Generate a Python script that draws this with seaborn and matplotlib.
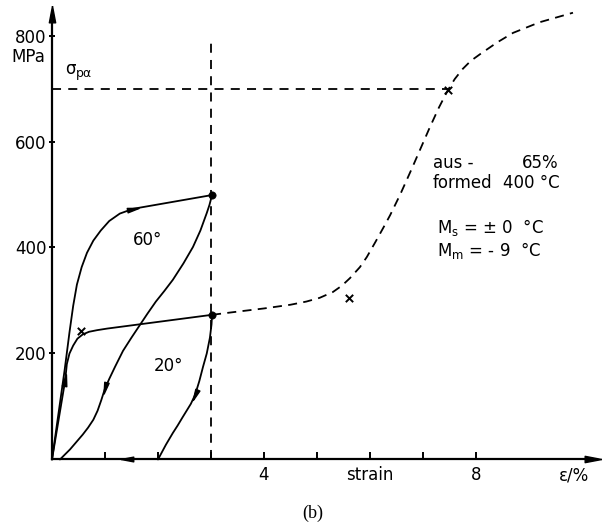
import numpy as np
import matplotlib
matplotlib.use("Agg")
import matplotlib.pyplot as plt
import seaborn as sns

# strain in %, stress in MPa
load60_x = [0, 0.12, 0.24, 0.33, 0.40, 0.47, 0.56, 0.66, 0.78, 0.92, 1.08, 1.28, 1.53, 3.02]
load60_y = [0, 85, 170, 240, 290, 330, 363, 390, 413, 432, 450, 464, 473, 499]
unload60_x = [3.02, 2.97, 2.92, 2.8, 2.66, 2.48, 2.28, 2.12, 1.96, 1.8, 1.66, 1.5, 1.34,
              1.19, 1.08, 1.0, 0.93, 0.86, 0.78, 0.68, 0.58, 0.46, 0.34, 0.22, 0.15]
unload60_y = [499, 480, 465, 432, 401, 370, 339, 318, 298, 275, 254, 230, 205,
              175, 152, 134, 112, 92, 75, 60, 47, 33, 19, 7, 0]

load20_x = [0, 0.12, 0.25, 0.28, 0.33, 0.40, 0.48, 0.58, 0.70, 0.85, 1.04, 3.02]
load20_y = [0, 72, 150, 180, 200, 215, 228, 236, 241, 244, 247, 273]
unload20_x = [3.02, 3.01, 2.98, 2.92, 2.85, 2.78, 2.7, 2.62, 2.54, 2.46, 2.37, 2.28, 2.15, 2.0]
unload20_y = [273, 255, 230, 200, 175, 148, 122, 105, 92, 79, 64, 50, 28, 0]
return_x = [2.0, 0.15]
return_y = [0, 0]

# dashed curve beyond 3 %
ext_x = [3.02, 3.42, 4.0, 4.5, 4.8, 5.05, 5.3, 5.47, 5.62, 5.81, 5.94, 6.1, 6.25, 6.38,
         6.57, 6.79, 6.89, 7.13, 7.3, 7.47, 7.6, 7.75, 7.9, 8.08, 8.4, 8.7, 9.2, 9.83]
ext_y = [273, 278, 285, 292, 298, 305, 316, 328, 342, 363, 382, 410, 437, 461,
         500, 549, 572, 627, 664, 697, 718, 737, 752, 765, 787, 805, 825, 843]

sigma_pa = 700
strain_stop = 3.0

dots_x = [3.02, 3.02]
dots_y = [499, 273]
cross_x = [0.55, 5.6, 7.47]
cross_y = [243, 305, 697]

# arrowheads on the curves: x, y, direction (deg)
arrow_x = [1.53, 1.0, 2.7, 0.25, 1.42]
arrow_y = [473, 134, 122, 150, 0]
arrow_dir = [11, 256, 246, 81, 180]

ytick_vals = [200, 400, 600, 800]
xtick_vals = [1, 2, 3, 4, 5, 6, 7, 8]
xtick_text = ["", "", "", "4", "", "strain", "", "8"]


def head(deg):
    t = np.deg2rad(deg)
    pts = np.array([[1.0, 0.0], [-1.0, 0.38], [-1.0, -0.38], [1.0, 0.0]])
    rot = np.array([[np.cos(t), -np.sin(t)], [np.sin(t), np.cos(t)]])
    return pts @ rot.T


sns.set_style("ticks")
plt.rcParams['font.family'] = ['DejaVu Sans']
plt.rcParams['text.color'] = 'black'
plt.rcParams['xtick.color'] = 'black'
plt.rcParams['ytick.color'] = 'black'
plt.rcParams['axes.edgecolor'] = 'black'

fig = plt.figure(figsize=(6.06, 5.26), dpi=100)
ax = fig.add_axes([0, 0, 1, 1])
ax.patch.set_visible(False)
ax.set_xlim(-0.981, 10.453)
ax.set_ylim(-125.5, 867)

lw = 1.3
for xs, ys in [(load60_x, load60_y), (unload60_x, unload60_y),
               (load20_x, load20_y), (unload20_x, unload20_y), (return_x, return_y)]:
    sns.lineplot(x=xs, y=ys, sort=False, estimator=None, color="black", lw=lw, ax=ax)

sns.lineplot(x=ext_x, y=ext_y, sort=False, estimator=None, color="black", lw=lw, ax=ax)
ax.lines[-1].set_dashes((5, 3.5))
sns.lineplot(x=[0, cross_x[2]], y=[sigma_pa, sigma_pa], sort=False, estimator=None,
             color="black", lw=lw, ax=ax)
ax.lines[-1].set_dashes((5, 4))
sns.lineplot(x=[strain_stop, strain_stop], y=[0, 790], sort=False, estimator=None,
             color="black", lw=lw, ax=ax)
ax.lines[-1].set_dashes((5, 4))

sns.scatterplot(x=dots_x, y=dots_y, color="black", s=28, edgecolor="black", ax=ax, zorder=5)
sns.scatterplot(x=cross_x, y=cross_y, color="black", marker="x", s=28, linewidth=1.4, ax=ax, zorder=5)

for x, y, d in zip(arrow_x, arrow_y, arrow_dir):
    ax.plot(x, y, marker=head(d), ms=9, color="black", ls="none", zorder=6)

# axes with arrows
for side in ["top", "right"]:
    ax.spines[side].set_visible(False)
ax.spines["left"].set_position(("data", 0))
ax.spines["bottom"].set_position(("data", 0))
ax.spines["left"].set_bounds(0, 838)
ax.spines["bottom"].set_bounds(0, 10.15)
ax.spines["left"].set_linewidth(1.6)
ax.spines["bottom"].set_linewidth(1.6)
ax.plot(0, 840, marker=head(90), ms=12, color="black", clip_on=False)
ax.plot(10.2, 0, marker=head(0), ms=12, color="black", clip_on=False)

ax.set_yticks(ytick_vals)
ax.set_yticklabels([str(v) for v in ytick_vals])
ax.set_xticks(xtick_vals)
ax.set_xticklabels(xtick_text)
ax.tick_params(axis="y", direction="inout", length=4, width=1.4, pad=2, labelsize=12)
ax.tick_params(axis="x", direction="in", length=5, width=1.4, pad=5, labelsize=12)

ax.text(9.85, -30, "ε/%", ha="center", va="center", fontsize=12)
ax.text(-0.44, 760, "MPa", ha="center", va="center", fontsize=12)
ax.text(0.24, 737, "σ", ha="left", va="center", fontsize=12)
ax.text(0.45, 729, "pα", ha="left", va="center", fontsize=9)
ax.text(1.81, 414, "60°", ha="center", va="center", fontsize=12)
ax.text(2.2, 176, "20°", ha="center", va="center", fontsize=12)

ax.text(7.19, 559, "aus -", ha="left", va="center", fontsize=12)
ax.text(8.87, 559, "65%", ha="left", va="center", fontsize=12)
ax.text(7.19, 521, "formed", ha="left", va="center", fontsize=12)
ax.text(8.51, 521, "400 °C", ha="left", va="center", fontsize=12)
ax.text(7.27, 437, r"M$_\mathrm{s}$ = ± 0  °C", ha="left", va="center", fontsize=12)
ax.text(7.27, 395, r"M$_\mathrm{m}$ = - 9  °C", ha="left", va="center", fontsize=12)

ax.text(4.92, -101, "(b)", ha="center", va="center", fontsize=13, family="Liberation Serif")

fig.savefig("out.png", dpi=100)
